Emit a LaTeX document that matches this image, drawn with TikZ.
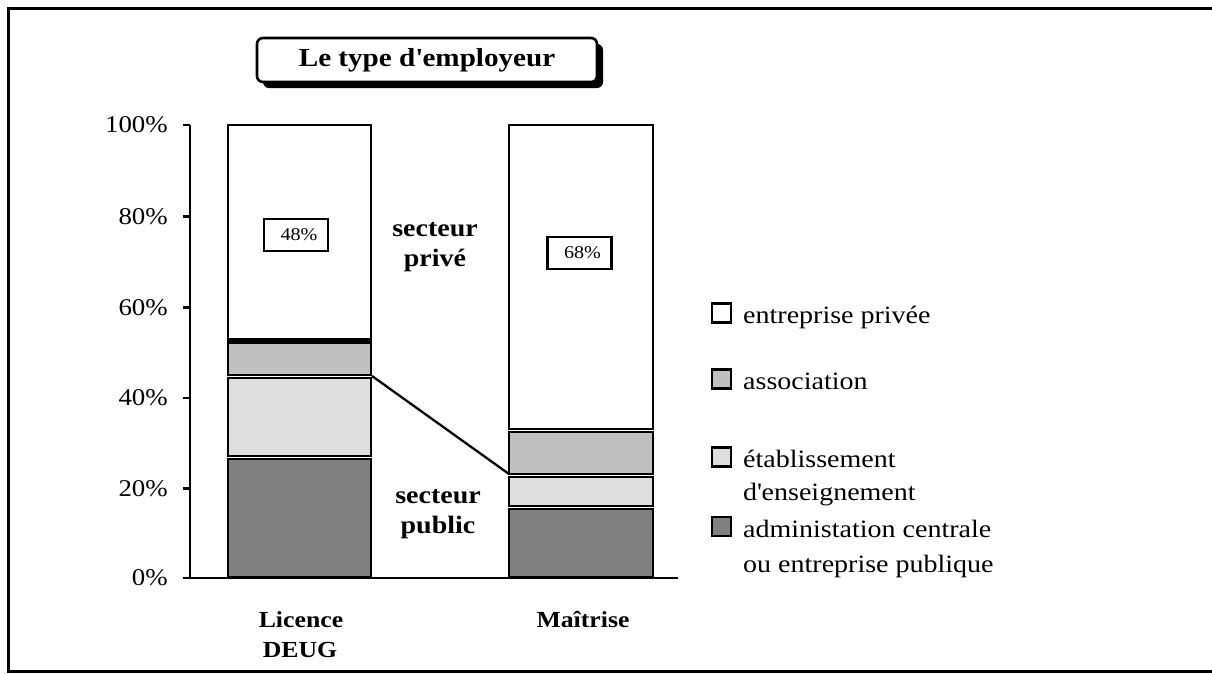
\documentclass[tikz,border=0pt]{standalone}
\usepackage{fontspec}
\setmainfont{Liberation Serif}[FakeStretch=1.12]
\definecolor{cdark}{HTML}{808080}
\definecolor{cassoc}{HTML}{C0C0C0}
\definecolor{clight}{HTML}{DEDEDE}
\newcommand{\apos}{\XeTeXglyph\XeTeXcharglyph"27\relax}
\begin{document}
\begin{tikzpicture}[x=1pt,y=-1pt,
  seg/.style={draw=black,line width=2.7pt},
  axis/.style={line width=2.6pt},
  ylab/.style={anchor=east,font=\fontsize{24}{28}\selectfont,inner sep=0pt},
  cat/.style={anchor=base,font=\fontsize{23}{27}\selectfont\bfseries,inner sep=0pt},
  sect/.style={anchor=base,font=\fontsize{25}{29}\selectfont\bfseries,inner sep=0pt},
  pct/.style={draw,line width=2.8pt,fill=white,minimum width=64pt,minimum height=32pt,inner sep=0pt,font=\fontsize{18}{21}\selectfont},
  legsq/.style={draw,line width=2.3pt,minimum size=19pt,inner sep=0pt},
  legtxt/.style={anchor=base west,font=\fontsize{25}{29}\selectfont,inner sep=0pt}]
\useasboundingbox (0,0) rectangle (1212,673);
% outer frame
\draw[line width=3pt] (1216,8.5) -- (8.5,8.5) -- (8.5,671.5) -- (1216,671.5);
% title
\fill[rounded corners=6pt] (263,44) rectangle (603,88);
\node[draw,line width=2.6pt,fill=white,rounded corners=6pt,minimum width=340pt,minimum height=44pt,inner sep=0pt,font=\fontsize{26}{30}\selectfont\bfseries] (title) at (427,60) {Le type d\apos employeur};
% bar 1
\draw[seg,fill=cdark]  (228,459) rectangle (371,577);
\draw[seg,fill=clight] (228,378) rectangle (371,456);
\draw[seg,fill=cassoc] (228,342.5) rectangle (371,375);
\draw[seg,fill=white]  (228,125) rectangle (371,339.5);
% bar 2
\draw[seg,fill=cdark]  (509,509) rectangle (653,577);
\draw[seg,fill=clight] (509,477) rectangle (653,506);
\draw[seg,fill=cassoc] (509,432) rectangle (653,474);
\draw[seg,fill=white]  (509,125) rectangle (653,429);
% axes
\draw[axis] (190,125) -- (190,578);
\draw[axis] (183,578) -- (678,578);
\foreach \yy/\lab in {125/100\%,216.6/80\%,307.2/60\%,397.8/40\%,488.4/20\%,578/0\%}{
  \draw[axis] (183,\yy) -- (190,\yy);
  \node[ylab] at (168,\yy) {\lab};
}
% connector
\coordinate (c1) at (372,376);
\coordinate (c2) at (509,474);
\draw[line width=2.3pt] (c1) -- (c2);
% percent boxes
\node[pct] (p48) at (296,235) {\hspace*{6pt}48\%};
\node[pct] (p68) at (579.5,253) {\hspace*{6pt}68\%};
% sector labels
\node[sect] (sp1) at (435,236) {secteur};
\node[sect] (sp2) at (435,266) {privé};
\node[sect] (su1) at (438,503) {secteur};
\node[sect] (su2) at (438,533) {public};
% categories
\node[cat] (lic) at (301,627) {Licence};
\node[cat] (deug) at (300,657) {DEUG};
\node[cat] (mai) at (583,627) {Maîtrise};
% legend
\node[legsq,fill=white]  (k1) at (721.5,313) {};
\node[legsq,fill=cassoc] (k2) at (721.5,379) {};
\node[legsq,fill=clight] (k3) at (721.5,457) {};
\node[legsq,fill=cdark]  (k4) at (721.5,526.5) {};
\node[legtxt] (t1) at (743,323) {entreprise privée};
\node[legtxt] (t2) at (743,389) {association};
\node[legtxt] (t3) at (743,467) {établissement};
\node[legtxt] (t3b) at (743,500) {d\apos enseignement};
\node[legtxt] (t4) at (743,537) {administation centrale};
\node[legtxt] (t4b) at (743,572) {ou entreprise publique};
\end{tikzpicture}
\end{document}
